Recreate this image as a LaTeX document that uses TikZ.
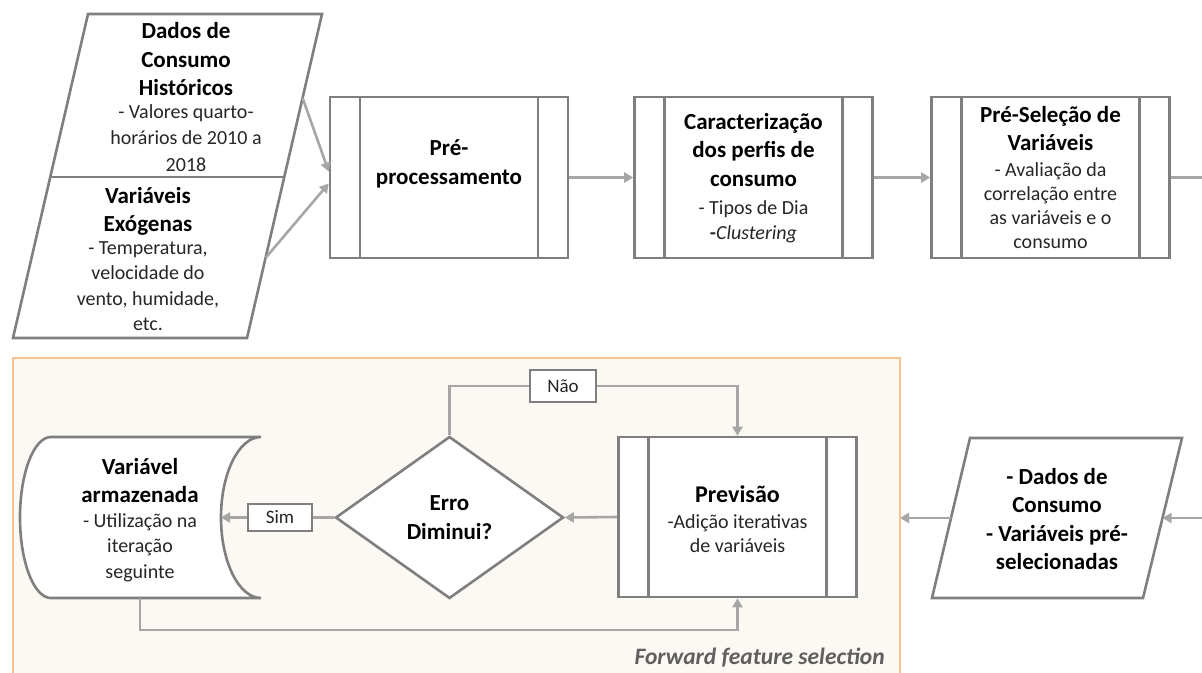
\documentclass[tikz,border=0pt]{standalone}
\usepackage{fontspec}
\setmainfont{Carlito}
\usetikzlibrary{arrows.meta,shapes.geometric}
\definecolor{boxgray}{HTML}{7F7F7F}
\definecolor{arrgray}{HTML}{A6A6A6}
\definecolor{ffsfill}{HTML}{FCF8F3}
\definecolor{ffsline}{HTML}{F8C28F}
\definecolor{subtxt}{HTML}{262626}
\definecolor{ffstxt}{HTML}{5F5F5F}
\newcommand\mytitle{\fontsize{23}{28.5}\selectfont\bfseries}
\newcommand\mysub{\fontsize{20}{25}\selectfont\mdseries\color{subtxt}}
\tikzset{
  shapeline/.style={draw=boxgray, line width=2.6pt, line join=miter},
  procbox/.style={shapeline, fill=white, rectangle, minimum width=238pt, minimum height=161pt, inner sep=0pt,
    path picture={\draw[boxgray,line width=2.6pt]
      ([xshift=30pt]path picture bounding box.north west) -- ([xshift=30pt]path picture bounding box.south west)
      ([xshift=-30pt]path picture bounding box.north east) -- ([xshift=-30pt]path picture bounding box.south east);}},
  txt/.style={align=center, inner sep=0pt, font=\mytitle},
  arr/.style={draw=arrgray, line width=2.6pt, -{Triangle[length=9pt,width=10pt]}},
  conn/.style={draw=arrgray, line width=2.6pt},
  lblbox/.style={shapeline, fill=white, rectangle, inner sep=0pt, font=\fontsize{19}{23}\selectfont\color{subtxt}}
}
\begin{document}
\begin{tikzpicture}[x=1pt,y=-1pt]
\useasboundingbox (0,0) rectangle (1202,672);
\fill[white] (0,0) rectangle (1202,672);

% Forward feature selection frame
\draw[draw=ffsline, fill=ffsfill, line width=2.6pt] (13,358) rectangle (900,700);
\coordinate (ffs-e) at (900,518);
\node[anchor=east, inner sep=0pt, font=\fontsize{23.5}{27}\selectfont\bfseries\itshape, text=ffstxt] (ffs-t) at (885,658) {Forward feature selection};

% input parallelogram
\draw[shapeline, fill=white] (88,14) -- (322,14) -- (247,338) -- (13,338) -- cycle;
\draw[shapeline] (50.3,177) -- (284.3,177);
\coordinate (in1-a) at (302.6,98);
\coordinate (in2-a) at (265.5,258);
\node[txt] (in1-t) at (186,97) {Dados de\\ Consumo\\ Históricos\\[-6pt] \mysub - Valores quarto-\\[-2pt] \mysub horários de 2010 a\\[-2pt] \mysub 2018};
\node[txt] (in2-t) at (148,259) {Variáveis\\ Exógenas\\[-6pt] \mysub - Temperatura,\\[-3pt] \mysub velocidade do\\[-3pt] \mysub vento, humidade,\\[-3pt] \mysub etc.};

% process boxes
\node[procbox] (pre) at (449,177.5) {};
\node[txt] (pre-t) at (449,164) {Pré-\\ processamento};
\node[procbox] (car) at (753.5,177.5) {};
\node[txt] (car-t) at (753.5,178) {Caracterização\\ dos perfis de\\ consumo\\ \mysub - Tipos de Dia\\[-3.5pt] \mysub\textbf{-}\textit{Clustering}};
\node[procbox] (sel) at (1050.5,177.5) {};
\node[txt] (sel-t) at (1050.5,177) {Pré-Seleção de\\ Variáveis\\[-3pt] \mysub - Avaliação da\\[-4.5pt] \mysub correlação entre\\[-4.5pt] \mysub as variáveis e o\\[-4.5pt] \mysub consumo};
\coordinate (exit-top) at (1204,177.5);

% top arrows
\draw[arr] (in1-a) -- ([yshift=6pt]pre.west);
\draw[arr] (in2-a) -- ([yshift=-6pt]pre.west);
\draw[arr] (pre.east) -- (car.west);
\draw[arr] (car.east) -- (sel.west);
\draw[conn] (sel.east) -- (exit-top);

% right parallelogram
\draw[shapeline, fill=white] (970,438) -- (1182,438) -- (1143,598) -- (932,598) -- cycle;
\coordinate (dc-r) at (1162.5,518);
\coordinate (dc-l) at (950.5,518);
\coordinate (entry) at (1204,518);
\node[txt] (dc-t) at (1057,519) {- Dados de\\ Consumo\\ - Variáveis pré-\\ selecionadas};
\draw[arr] (entry) -- (dc-r);
\draw[arr] (dc-l) -- (ffs-e);

% Previsao
\node[procbox, minimum height=160pt] (prev) at (737.5,517) {};
\node[txt] (prev-t) at (737.5,519.5) {\fontsize{24}{28.5}\selectfont Previsão\\[-3pt] \mysub -Adição iterativas\\[-4pt] \mysub de variáveis};

% diamond
\node[diamond, shapeline, fill=white, minimum width=228pt, minimum height=162pt, inner sep=0pt, align=center, font=\mytitle] (dia) at (449.5,517.5) {Erro\\ Diminui?};

% storage
\draw[shapeline, fill=white] (51,437) -- (261,437) arc[start angle=-90,end angle=-270,x radius=40,y radius=80.5] -- (51,598) arc[start angle=90,end angle=270,x radius=31,y radius=80.5] -- cycle;
\coordinate (sto-r) at (221,517.5);
\coordinate (sto-b) at (140,598);
\node[txt] (sto-t) at (140,520) {Variável\\ armazenada\\[-4pt] \mysub - Utilização na\\[-3pt] \mysub iteração\\[-3pt] \mysub seguinte};

% labels
\node[lblbox, minimum width=64pt, minimum height=27pt] (sim) at (280,517.5) {Sim};
\node[lblbox, minimum width=66pt, minimum height=32pt] (nao) at (563,386) {Não};

% loop connectors
\draw[arr] (prev.west) -- (dia.east);
\draw[conn] (dia.west) -- (sim.east);
\draw[arr] (sim.west) -- (sto-r);
\draw[conn] (dia.north) |- (nao.west);
\draw[arr] (nao.east) -| (prev.north);
\draw[arr] (sto-b) -- ++(0,32) -| (prev.south);
\end{tikzpicture}
\end{document}
